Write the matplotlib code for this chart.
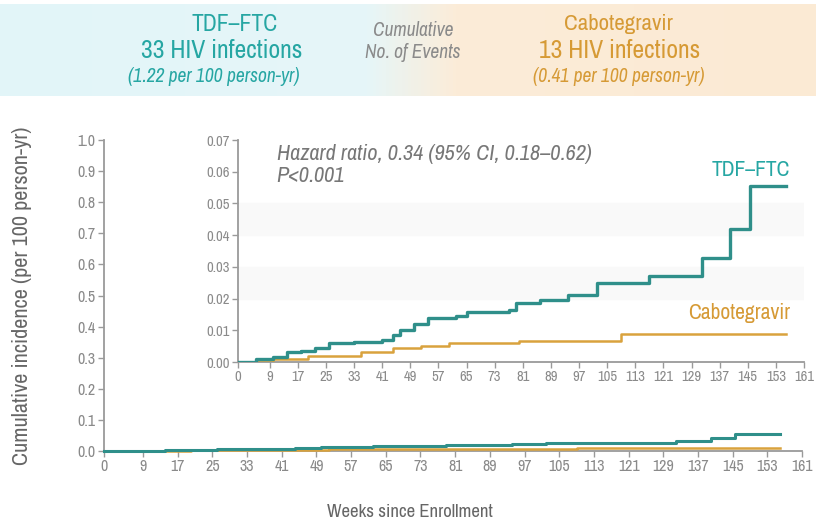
import numpy as np
import matplotlib.pyplot as plt
from matplotlib.colors import LinearSegmentedColormap

plt.rcParams['font.family'] = ['Archivo Narrow', 'DejaVu Sans']

# cumulative incidence (per 100 person-yr), step changes by week
tdf_weeks = [0, 5, 10, 14, 18, 22, 26, 33, 41, 44, 46, 50, 54, 62, 65, 77, 79, 86, 94, 102, 117, 132, 140, 145.5, 156]
tdf_inc = [0, 0.001, 0.0015, 0.003, 0.0035, 0.0045, 0.006, 0.0063, 0.0068, 0.0085, 0.010, 0.012, 0.0139, 0.0145,
           0.0158, 0.0165, 0.0187, 0.0196, 0.021, 0.025, 0.0272, 0.0329, 0.042, 0.0554, 0.0554]
cab_weeks = [0, 10, 20, 35, 44, 52, 60, 80, 109, 156]
cab_inc = [0, 0.001, 0.002, 0.003, 0.0044, 0.005, 0.006, 0.0066, 0.0089, 0.0089]

week_ticks = [0, 9, 17, 25, 33, 41, 49, 57, 65, 73, 81, 89, 97, 105, 113, 121, 129, 137, 145, 153, 161]

teal = '#2f8f8a'
teal_txt = '#26a6a3'
gold = '#d9a23d'
gold_txt = '#d69a35'
grey = '#8a8a8a'

fig = plt.figure(figsize=(8.16, 5.2), dpi=100)

# header band with cyan-to-peach gradient
band = fig.add_axes([0, 1 - 96 / 520, 1, 92 / 520])
cmap = LinearSegmentedColormap.from_list('band', [(0, '#e2f5f8'), (0.45, '#e6f6f8'), (0.56, '#fcecd8'), (1, '#fbead4')])
band.imshow(np.linspace(0, 1, 256)[None, :], aspect='auto', cmap=cmap, extent=[0, 1, 0, 1])
band.set_axis_off()

fig.text(235 / 816, 1 - 24 / 520, 'TDF–FTC', ha='center', va='center', fontsize=17, color=teal_txt)
fig.text(222 / 816, 1 - 50 / 520, '33 HIV infections', ha='center', va='center', fontsize=18.5, color=teal_txt)
fig.text(214 / 816, 1 - 77 / 520, '(1.22 per 100 person-yr)', ha='center', va='center', fontsize=14,
         color=teal_txt, style='italic')
fig.text(413 / 816, 1 - 30 / 520, 'Cumulative', ha='center', va='center', fontsize=14, color=grey, style='italic')
fig.text(413 / 816, 1 - 53 / 520, 'No. of Events', ha='center', va='center', fontsize=14, color=grey, style='italic')
fig.text(618 / 816, 1 - 24 / 520, 'Cabotegravir', ha='center', va='center', fontsize=16.5, color=gold_txt)
fig.text(620 / 816, 1 - 50 / 520, '13 HIV infections', ha='center', va='center', fontsize=18.5, color=gold_txt)
fig.text(619 / 816, 1 - 77 / 520, '(0.41 per 100 person-yr)', ha='center', va='center', fontsize=14,
         color=gold_txt, style='italic')


def style_axes(ax):
    for s in ['top', 'right']:
        ax.spines[s].set_visible(False)
    for s in ['left', 'bottom']:
        ax.spines[s].set_color('#9a9a9a')
        ax.spines[s].set_linewidth(1.3)
    ax.tick_params(colors='#9a9a9a', labelcolor=grey, labelsize=11.5, length=4, width=1, pad=2)


# main axes, full 0-1 scale
ax = fig.add_axes([104 / 816, 69 / 520, 698 / 816, 311 / 520])
ax.step(cab_weeks, cab_inc, where='post', color=gold, lw=1.8, clip_on=False, zorder=3)
ax.step(tdf_weeks, tdf_inc, where='post', color=teal, lw=2.2, clip_on=False, zorder=4)
ax.set_xlim(0, 161)
ax.set_ylim(0, 1.0)
ax.set_xticks(week_ticks)
ax.set_yticks(np.arange(0, 1.01, 0.1))
ax.set_yticklabels([f'{v:.1f}' for v in np.arange(0, 1.01, 0.1)])
style_axes(ax)
ax.set_xlabel('Weeks since Enrollment', fontsize=13.5, color='#666666')
ax.xaxis.set_label_coords((410 - 104) / 698, -0.17)
ax.set_ylabel('Cumulative incidence (per 100 person-yr)', fontsize=16, color='#666666')
ax.yaxis.set_label_coords(-(104 - 32) / 698, 0.5)

# inset, zoomed 0-0.07
ins = fig.add_axes([238 / 816, 158 / 520, 566 / 816, 222 / 520])
ins.patch.set_facecolor('white')
for lo in [0.02, 0.04]:
    ins.axhspan(lo, lo + 0.01, color='#f9f9f9', zorder=0)
ins.step(cab_weeks, cab_inc, where='post', color=gold, lw=1.8, zorder=3)
ins.step(tdf_weeks, tdf_inc, where='post', color=teal, lw=2.4, zorder=4)
ins.set_xlim(0, 161)
ins.set_ylim(0, 0.07)
ins.set_xticks(week_ticks)
ins.set_yticks(np.arange(0, 0.0701, 0.01))
ins.set_yticklabels([f'{v:.2f}' for v in np.arange(0, 0.0701, 0.01)])
style_axes(ins)
ins.tick_params(labelsize=10.5)

ins.text(11, 0.0655, 'Hazard ratio, 0.34 (95% CI, 0.18–0.62)', fontsize=16, color='#777777',
         style='italic', va='center')
ins.text(11, 0.0585, 'P<0.001', fontsize=16, color='#777777', style='italic', va='center')
ins.text(157, 0.0605, 'TDF–FTC', fontsize=15.5, color=teal_txt, ha='right', va='center', fontweight='bold')
ins.text(157, 0.0155, 'Cabotegravir', fontsize=15.5, color=gold_txt, ha='right', va='center', fontweight='bold')

fig.savefig('out.png', dpi=100)
